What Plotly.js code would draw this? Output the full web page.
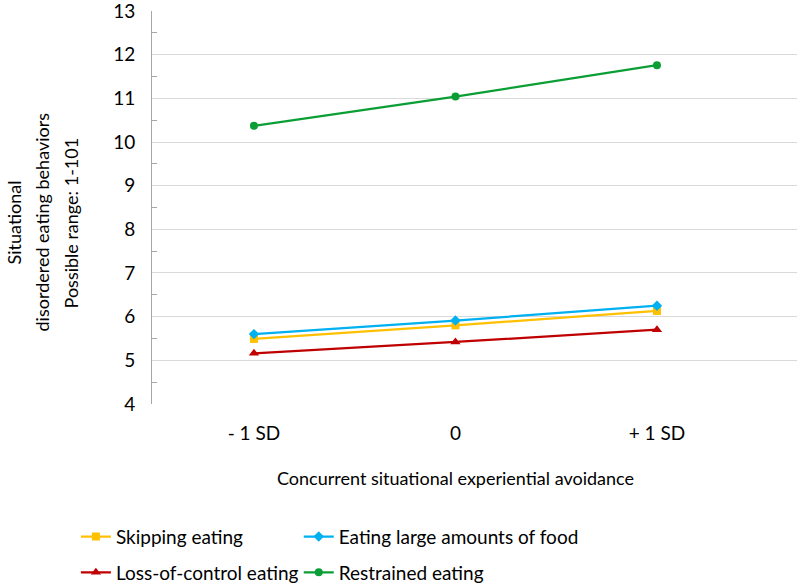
<!DOCTYPE html>
<html>
<head>
<meta charset="utf-8">
<script src="https://cdn.plot.ly/plotly-3.0.1.min.js"></script>
<style>
  body { margin: 0; background: #fff; }
  #chart { width: 797px; height: 585px; }
</style>
</head>
<body>
<div id="chart"></div>
<script>
'use strict'

// data
var categories = ['- 1 SD', '0', '+ 1 SD'];
var skipping = [5.49, 5.80, 6.13];
var largeAmounts = [5.60, 5.91, 6.25];
var lossOfControl = [5.16, 5.42, 5.70];
var restrained = [10.37, 11.04, 11.76];
var seriesNames = ['Skipping eating', 'Eating large amounts of food', 'Loss-of-control eating', 'Restrained eating'];
var yTitleLines = ['Situational', 'disordered eating behaviors', 'Possible range: 1-101'];
var xTitle = 'Concurrent situational experiential avoidance';

var font = 'Lato, "Open Sans", sans-serif';

function line_trace(name, y, color, symbol, size, legend) {
  return {
    type: 'scatter',
    mode: 'lines+markers',
    name: name,
    legend: legend,
    legendgroup: name,
    x: categories,
    y: y,
    line: { color: color, width: 2.25 },
    marker: { color: color, symbol: symbol, size: size }
  };
}

var data = [
  line_trace(seriesNames[0], skipping, '#FFC000', 'square', 8, 'legend'),
  line_trace(seriesNames[1], largeAmounts, '#00B0F0', 'diamond', 8, 'legend2'),
  line_trace(seriesNames[2], lossOfControl, '#C00000', 'triangle-up', 9, 'legend'),
  line_trace(seriesNames[3], restrained, '#0A9E35', 'circle', 8, 'legend2')
];

var legendFont = { family: font, size: 19, color: '#000' };
var titleFont = { family: font, size: 18, color: '#000' };

// y title drawn as three rotated lines, Excel spaces them wider than plotly's <br>
var titleX = [-0.214, -0.1705, -0.1256];
var annotations = [];
for (var i = 0; i < yTitleLines.length; i++) {
  annotations.push({
    text: yTitleLines[i],
    xref: 'paper', yref: 'paper',
    x: titleX[i], y: 0.462,
    xanchor: 'center', yanchor: 'middle',
    textangle: -90,
    showarrow: false,
    font: titleFont
  });
}
// x title sits under the middle category, not the plot centre
annotations.push({
  text: xTitle,
  xref: 'x', yref: 'paper',
  x: 1, y: -0.188,
  xanchor: 'center', yanchor: 'middle',
  showarrow: false,
  font: titleFont
});

var layout = {
  width: 797,
  height: 585,
  paper_bgcolor: '#fff',
  plot_bgcolor: '#fff',
  margin: { t: 11, b: 181, l: 152, r: 0 },
  font: { family: font, size: 18, color: '#000' },
  showlegend: true,
  legend: {
    x: -0.118, xanchor: 'left',
    yref: 'container',
    y: 0.115, yanchor: 'top',
    tracegroupgap: 8,
    font: legendFont
  },
  legend2: {
    x: 0.2275, xanchor: 'left',
    yref: 'container',
    y: 0.115, yanchor: 'top',
    tracegroupgap: 8,
    font: legendFont
  },
  annotations: annotations,
  xaxis: {
    type: 'category',
    range: [-0.506, 2.695],
    showgrid: false,
    zeroline: false,
    showline: false,
    ticks: '',
    tickfont: { size: 19 },
    ticklabelstandoff: 16,
    title: { text: '' }
  },
  yaxis: {
    range: [3.999, 13.001],
    dtick: 1,
    tick0: 0,
    showgrid: true,
    gridcolor: '#D9D9D9',
    gridwidth: 1,
    zeroline: false,
    showline: true,
    linecolor: '#A6A6A6',
    linewidth: 1,
    ticks: '',
    tickfont: { size: 19 },
    ticklabelstandoff: 12,
    ticklabeloverflow: 'allow',
    minor: { ticks: 'inside', dtick: 0.5, ticklen: 5, tickcolor: '#A6A6A6', showgrid: false },
    title: { text: '' }
  }
};

var config = { displayModeBar: false, staticPlot: true };

Plotly.newPlot('chart', data, layout, config);
</script>
</body>
</html>
